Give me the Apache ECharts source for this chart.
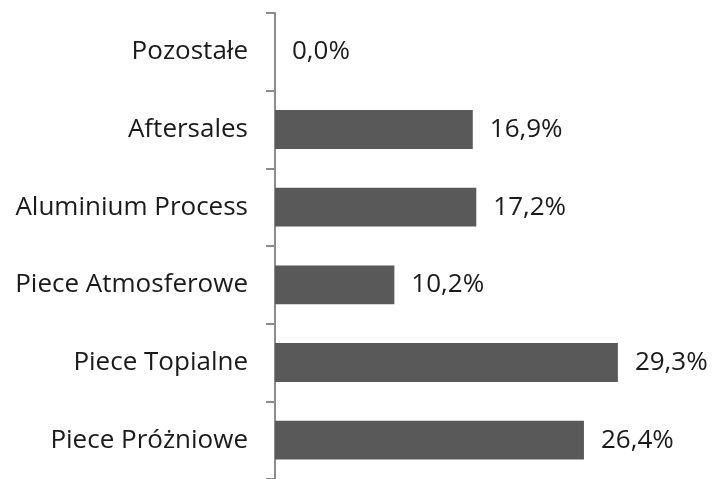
<!DOCTYPE html>
<html>
<head>
<meta charset="utf-8">
<script src="https://cdn.jsdelivr.net/npm/echarts@6/dist/echarts.min.js"></script>
<style>
  html, body { margin: 0; padding: 0; background: #fff; }
  #chart { width: 715px; height: 479px; }
</style>
</head>
<body>
<div id="chart"></div>
<script>
const categories = ['Pozostałe', 'Aftersales', 'Aluminium Process', 'Piece Atmosferowe', 'Piece Topialne', 'Piece Próżniowe'];
const shares = [0.0, 16.9, 17.2, 10.2, 29.3, 26.4];

const chart = echarts.init(document.getElementById('chart'));

const fmt = v => v.toFixed(1).replace('.', ',') + '%';

chart.setOption({
  animation: false,
  grid: { left: 275, right: 7, top: 13, height: 471, containLabel: false },
  xAxis: {
    type: 'value',
    min: 0,
    max: 37,
    show: false
  },
  yAxis: {
    type: 'category',
    inverse: true,
    data: categories,
    axisLine: { show: true, lineStyle: { color: '#8c8c8c', width: 2 } },
    axisTick: { show: true, length: 9, lineStyle: { color: '#8c8c8c', width: 2 } },
    axisLabel: {
      margin: 27,
      color: '#1a1a1a',
      fontFamily: 'Open Sans',
      fontSize: 26
    }
  },
  series: [{
    type: 'bar',
    data: shares,
    barWidth: '50%',
    itemStyle: { color: '#595959' },
    label: {
      show: true,
      position: 'right',
      distance: 17,
      color: '#1a1a1a',
      fontFamily: 'Open Sans',
      fontSize: 26,
      formatter: p => fmt(p.value)
    }
  }]
});
</script>
</body>
</html>
